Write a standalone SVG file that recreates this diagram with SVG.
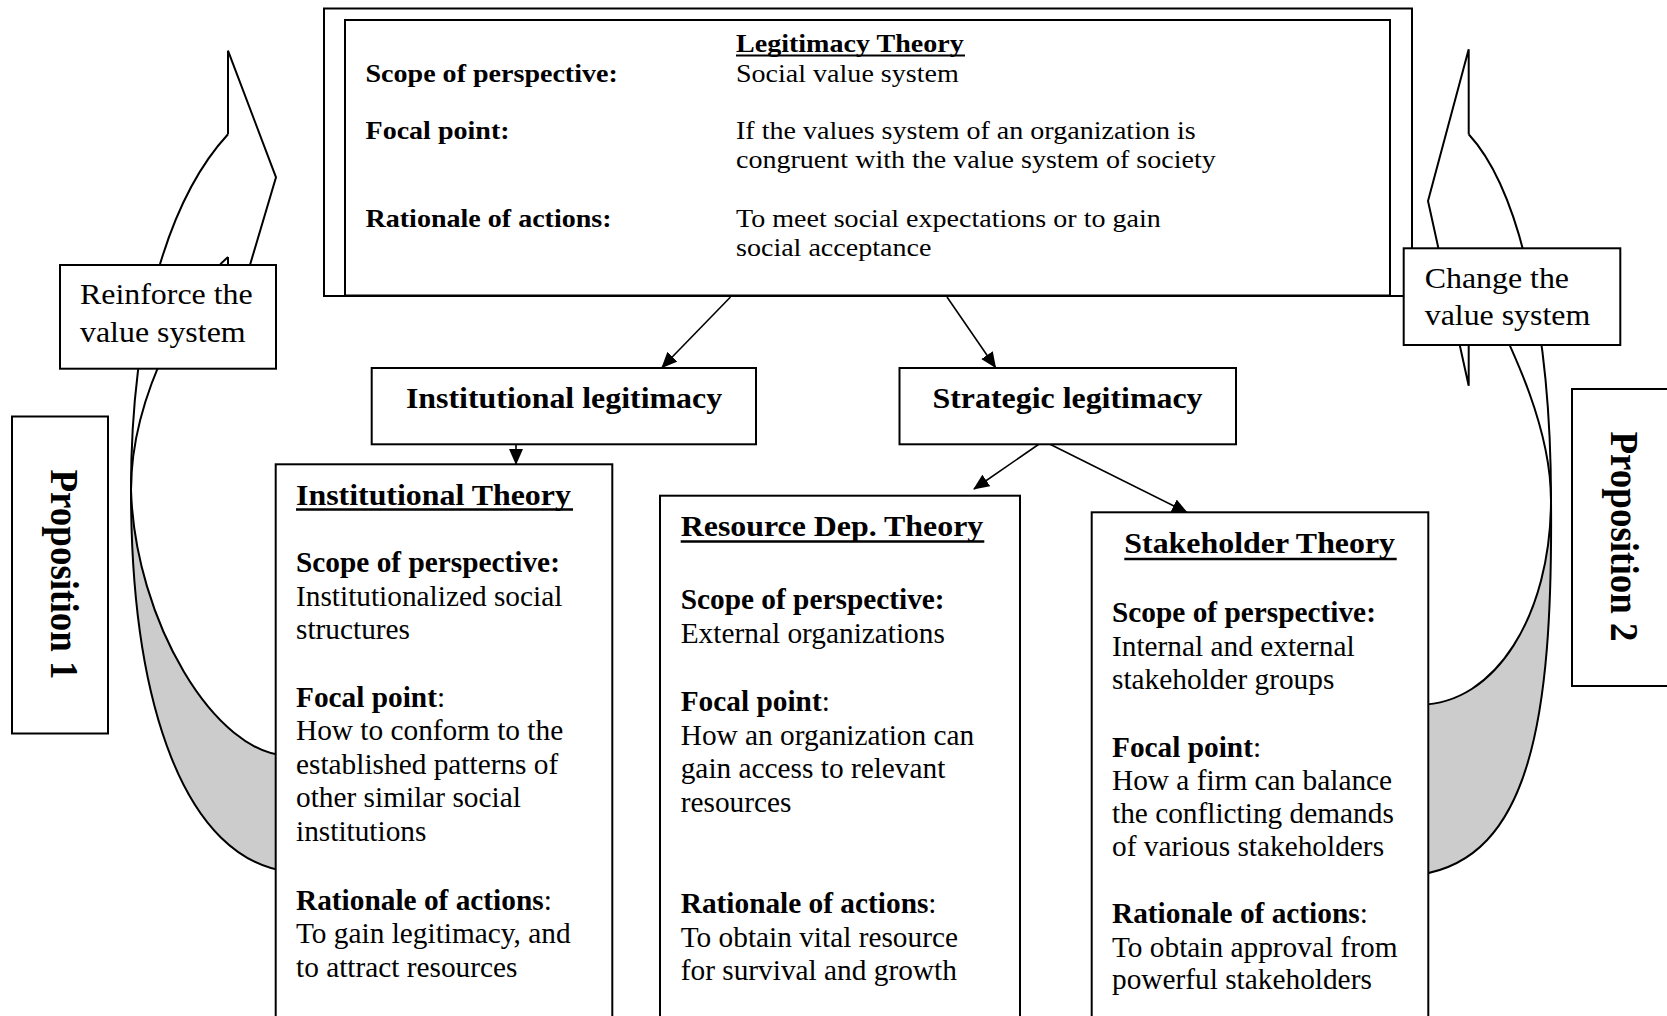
<svg xmlns="http://www.w3.org/2000/svg" width="1667" height="1016" viewBox="0 0 1667 1016">
<defs>
<style>
.t{font-family:"Liberation Serif","Times New Roman",serif;font-size:29px;fill:#000}
.s{font-size:25.5px}
.p{font-size:37px;font-weight:bold}
.b{font-weight:bold}
.box{fill:#fff;stroke:#000;stroke-width:2}
.ul{stroke:#000;stroke-width:2.5}
.conn{stroke:#000;stroke-width:1.6;fill:none;marker-end:url(#ah)}
.crv{fill:none;stroke:#000;stroke-width:2}
.gray{fill:#cccccc;stroke:none}
</style>
<marker id="ah" markerUnits="userSpaceOnUse" markerWidth="16" markerHeight="14" viewBox="0 0 16 14" refX="15" refY="7" orient="auto">
<path d="M0,0 L16,7 L0,14 Z" fill="#000"/>
</marker>
</defs>
<rect width="1667" height="1016" fill="#fff"/>

<g id="curved-arrows">
<path class="gray" d="M131,490 C131,705 185,860 290,872 L290,756 C215,756 135,620 131,490 Z"/>
<path class="crv" d="M228,134.3 C172,195 131,315 131,490 C131,705 185,860 290,872"/>
<path class="crv" d="M228,257 C196,284 131,390 131,490 C135,620 215,756 290,756"/>
<path class="crv" d="M228,134.3 L228,50.7 L276,177.3 L228,339 L228,257"/>
<path class="gray" d="M1551,500 C1553,720 1530,858 1420,874.5 L1420,704.5 C1495,704.5 1551,615 1551,500 Z"/>
<path class="crv" d="M1468.7,134.3 C1520,190 1551,330 1551,500 C1553,720 1530,858 1420,874.5"/>
<path class="crv" d="M1468.7,257 C1492,312 1551,410 1551,500 C1551,615 1495,704.5 1420,704.5"/>
<path class="crv" d="M1468.7,134.3 L1468.7,49.3 L1428,201 L1468.7,385.7 L1468.7,257"/>
</g>

<g id="connectors">
<line class="conn" x1="730.5" y1="297" x2="662" y2="367.5"/>
<line class="conn" x1="947" y1="297" x2="995.5" y2="367.5"/>
<line class="conn" x1="516" y1="444" x2="516" y2="464"/>
<line class="conn" x1="1043.5" y1="441" x2="974" y2="489"/>
<line class="conn" x1="1043.5" y1="441" x2="1187" y2="512.5"/>
</g>

<g id="legitimacy-theory">
<rect class="box" x="324" y="8.5" width="1088" height="287.5"/>
<rect class="box" x="345" y="20" width="1045" height="275.5"/>
<g transform="translate(365.5,0) scale(1.1,1)">
<text class="t s b" y="82">Scope of perspective:</text>
<text class="t s b" y="139">Focal point:</text>
<text class="t s b" y="227">Rationale of actions:</text>
</g>
<g transform="translate(736,0) scale(1.1,1)">
<text class="t s b" y="52">Legitimacy Theory</text>
<text class="t s" y="82">Social value system</text>
<text class="t s" y="139">If the values system of an organization is</text>
<text class="t s" y="168">congruent with the value system of society</text>
<text class="t s" y="227">To meet social expectations or to gain</text>
<text class="t s" y="256">social acceptance</text>
</g>
<line class="ul" x1="736" y1="55.5" x2="965" y2="55.5" style="stroke-width:2"/>
</g>

<g id="reinforce">
<rect class="box" x="60" y="265" width="216" height="103.7"/>
<g transform="translate(80,0) scale(1.1,1)">
<text class="t" y="304">Reinforce the</text>
<text class="t" y="342">value system</text>
</g>
</g>

<g id="change">
<rect class="box" x="1403.7" y="248.3" width="216.6" height="96.7"/>
<g transform="translate(1424.7,0) scale(1.1,1)">
<text class="t" y="288.3">Change the</text>
<text class="t" y="325">value system</text>
</g>
</g>

<g id="proposition-1">
<rect class="box" x="12" y="416.5" width="96" height="317"/>
<text class="t p" text-anchor="middle" transform="translate(51,574.5) scale(1.1,1) rotate(90)">Proposition 1</text>
</g>

<g id="proposition-2">
<rect class="box" x="1572" y="389" width="100" height="297"/>
<text class="t p" text-anchor="middle" transform="translate(1611,536.5) scale(1.1,1) rotate(90)">Proposition 2</text>
</g>

<g id="institutional-legitimacy">
<rect class="box" x="371.7" y="368" width="384.3" height="76.3"/>
<g transform="translate(564,0) scale(1.1,1)">
<text class="t b" text-anchor="middle" y="408">Institutional legitimacy</text>
</g>
</g>

<g id="strategic-legitimacy">
<rect class="box" x="899.5" y="368" width="336.5" height="76.3"/>
<g transform="translate(1067.5,0) scale(1.1,1)">
<text class="t b" text-anchor="middle" y="408">Strategic legitimacy</text>
</g>
</g>

<g id="institutional-theory">
<rect class="box" x="275.7" y="464.3" width="336.6" height="560"/>
<g transform="translate(296,0) scale(1.1,1)">
<text class="t b" y="505">Institutional Theory</text>
</g>
<g transform="translate(296,0) scale(1.012,1)">
<text class="t b" y="572">Scope of perspective:</text>
<text class="t" y="606">Institutionalized social</text>
<text class="t" y="639.5">structures</text>
<text class="t" y="707"><tspan class="b">Focal point</tspan>:</text>
<text class="t" y="740.5">How to conform to the</text>
<text class="t" y="774">established patterns of</text>
<text class="t" y="807.5">other similar social</text>
<text class="t" y="841">institutions</text>
<text class="t" y="910"><tspan class="b">Rationale of actions</tspan>:</text>
<text class="t" y="943.5">To gain legitimacy, and</text>
<text class="t" y="977">to attract resources</text>
</g>
<line class="ul" x1="296" y1="509.5" x2="573" y2="509.5"/>
</g>

<g id="resource-dependence-theory">
<rect class="box" x="660" y="495.7" width="360" height="530"/>
<g transform="translate(680.7,0) scale(1.1,1)">
<text class="t b" y="536">Resource Dep. Theory</text>
</g>
<g transform="translate(680.7,0) scale(1.012,1)">
<text class="t b" y="609.5">Scope of perspective:</text>
<text class="t" y="643">External organizations</text>
<text class="t" y="711.5"><tspan class="b">Focal point</tspan>:</text>
<text class="t" y="745">How an organization can</text>
<text class="t" y="778.5">gain access to relevant</text>
<text class="t" y="812">resources</text>
<text class="t" y="913.5"><tspan class="b">Rationale of actions</tspan>:</text>
<text class="t" y="947">To obtain vital resource</text>
<text class="t" y="980.5">for survival and growth</text>
</g>
<line class="ul" x1="680.7" y1="541.5" x2="984.3" y2="541.5"/>
</g>

<g id="stakeholder-theory">
<rect class="box" x="1091.7" y="512.3" width="336.6" height="515"/>
<g transform="translate(1124.3,0) scale(1.1,1)">
<text class="t b" y="553">Stakeholder Theory</text>
</g>
<g transform="translate(1112,0) scale(1.012,1)">
<text class="t b" y="622.5">Scope of perspective:</text>
<text class="t" y="656">Internal and external</text>
<text class="t" y="689.5">stakeholder groups</text>
<text class="t" y="757"><tspan class="b">Focal point</tspan>:</text>
<text class="t" y="790.5">How a firm can balance</text>
<text class="t" y="823.5">the conflicting demands</text>
<text class="t" y="856.5">of various stakeholders</text>
<text class="t" y="923.5"><tspan class="b">Rationale of actions</tspan>:</text>
<text class="t" y="957">To obtain approval from</text>
<text class="t" y="989.5">powerful stakeholders</text>
</g>
<line class="ul" x1="1124.3" y1="559" x2="1396.7" y2="559"/>
</g>
</svg>
